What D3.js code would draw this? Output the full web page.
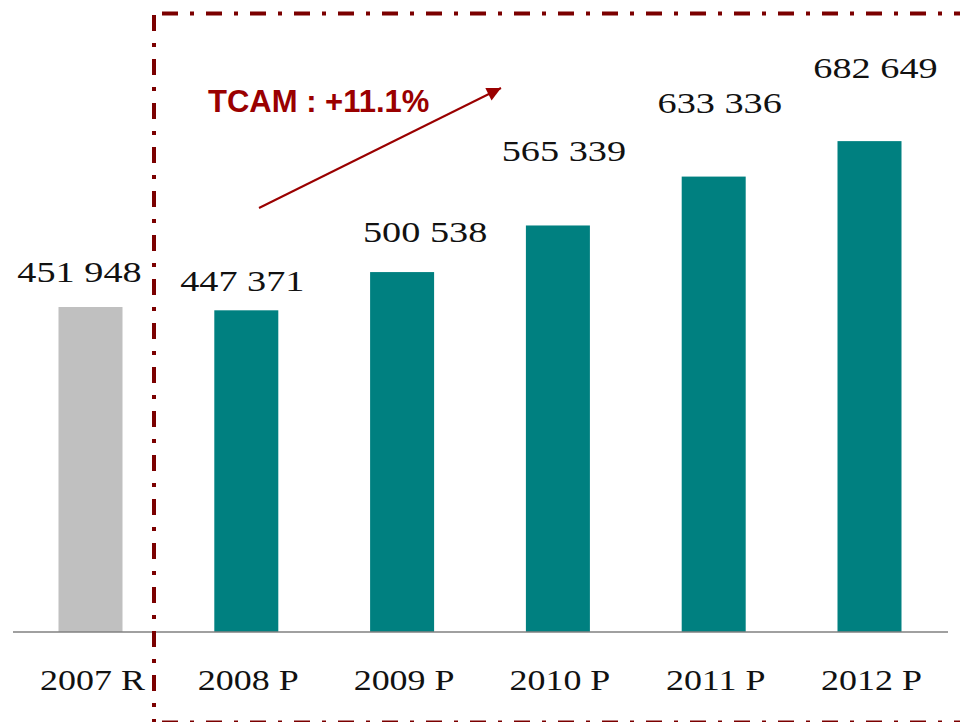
<!DOCTYPE html>
<html>
<head>
<meta charset="utf-8">
<script src="https://cdn.jsdelivr.net/npm/d3@7"></script>
<style>
  body { margin: 0; background: #fff; }
  svg { display: block; }
</style>
</head>
<body>
<svg id="chart"></svg>
<script>
var years = ["2007 R", "2008 P", "2009 P", "2010 P", "2011 P", "2012 P"];
var values = [451948, 447371, 500538, 565339, 633336, 682649];
var kinds = ["real", "proj", "proj", "proj", "proj", "proj"];
var growthLabel = "TCAM : +11.1%";

// label nudges as placed on the original slide
var labelDx = [-11, -4, 23, 6, 6, 6];
var labelDy = [25, 19, 30, 64, 64, 63];

var svg = d3.select("#chart").attr("width", 960).attr("height", 722),
    baseY = 632;

var xScale = d3.scalePoint()
	.domain(years)
	.range([90.5, 869.5]);

var yScale = d3.scaleLinear()
	.domain([0, 878900])
	.range([baseY, 0]);

var barWidth = 64;
var colorScale = d3.scaleOrdinal()
	.domain(["real", "proj"])
	.range(["#c0c0c0", "#008080"]);

var fmt = function(v){
	return d3.format(",")(v).replace(/,/g, " ");
};

svg.append("g")
	.selectAll("rect")
	.data(values)
	.enter()
		.append("rect")
			.attr("x", function(d, i){ return xScale(years[i]) - barWidth/2; })
			.attr("y", function(d){ return yScale(d); })
			.attr("width", barWidth)
			.attr("height", function(d){ return baseY - yScale(d); })
			.attr("fill", function(d, i){ return colorScale(kinds[i]); });

// baseline
svg.append("line")
	.attr("x1", 13)
	.attr("x2", 948)
	.attr("y1", baseY)
	.attr("y2", baseY)
	.attr("stroke", "#808080")
	.attr("stroke-width", 1.5);

// value labels (the slide font is wide, so stretch it)
svg.append("g")
	.selectAll("text")
	.data(values)
	.enter()
		.append("text")
			.attr("transform", function(d, i){
				return "translate(" + (xScale(years[i]) + labelDx[i]) + "," + (yScale(d) - labelDy[i]) + ") scale(1.32,1)";
			})
			.attr("text-anchor", "middle")
			.style("font-family", "'Liberation Serif', 'Times New Roman', serif")
			.style("font-size", "29px")
			.attr("fill", "#111")
			.text(function(d){ return fmt(d); });

// category labels
svg.append("g")
	.selectAll("text")
	.data(years)
	.enter()
		.append("text")
			.attr("transform", function(d){
				return "translate(" + (xScale(d) + 2) + ",690) scale(1.24,1)";
			})
			.attr("text-anchor", "middle")
			.style("font-family", "'Liberation Serif', 'Times New Roman', serif")
			.style("font-size", "29px")
			.attr("fill", "#111")
			.text(function(d){ return d; });

// dash-dot frame around projections
var frameColor = "#7b0000";
var frame = svg.append("g")
	.attr("fill", "none")
	.attr("stroke", frameColor)
	.attr("stroke-width", 4)
	.attr("stroke-dasharray", "16,12,4,12");

frame.append("path")
	.attr("d", "M154,15 L154,722");
frame.append("path")
	.attr("d", "M162,13.5 L960,13.5");
frame.append("path")
	.attr("d", "M162,722.5 L960,722.5");

// growth arrow
var arrowColor = "#9a0000";
svg.append("defs")
	.append("marker")
		.attr("id", "head")
		.attr("markerUnits", "userSpaceOnUse")
		.attr("viewBox", "0 0 10 10")
		.attr("refX", 10)
		.attr("refY", 5)
		.attr("markerWidth", 18)
		.attr("markerHeight", 14)
		.attr("orient", "auto")
	.append("path")
		.attr("d", "M0,0 L10,5 L0,10 Z")
		.attr("fill", arrowColor);

svg.append("line")
	.attr("x1", 259)
	.attr("y1", 208)
	.attr("x2", 501)
	.attr("y2", 88)
	.attr("stroke", arrowColor)
	.attr("stroke-width", 2)
	.attr("marker-end", "url(#head)");

svg.append("text")
	.attr("x", 208)
	.attr("y", 112)
	.style("font-family", "'Liberation Sans', Arial, sans-serif")
	.style("font-size", "31px")
	.style("font-weight", "bold")
	.attr("fill", arrowColor)
	.text(growthLabel);
</script>
</body>
</html>
